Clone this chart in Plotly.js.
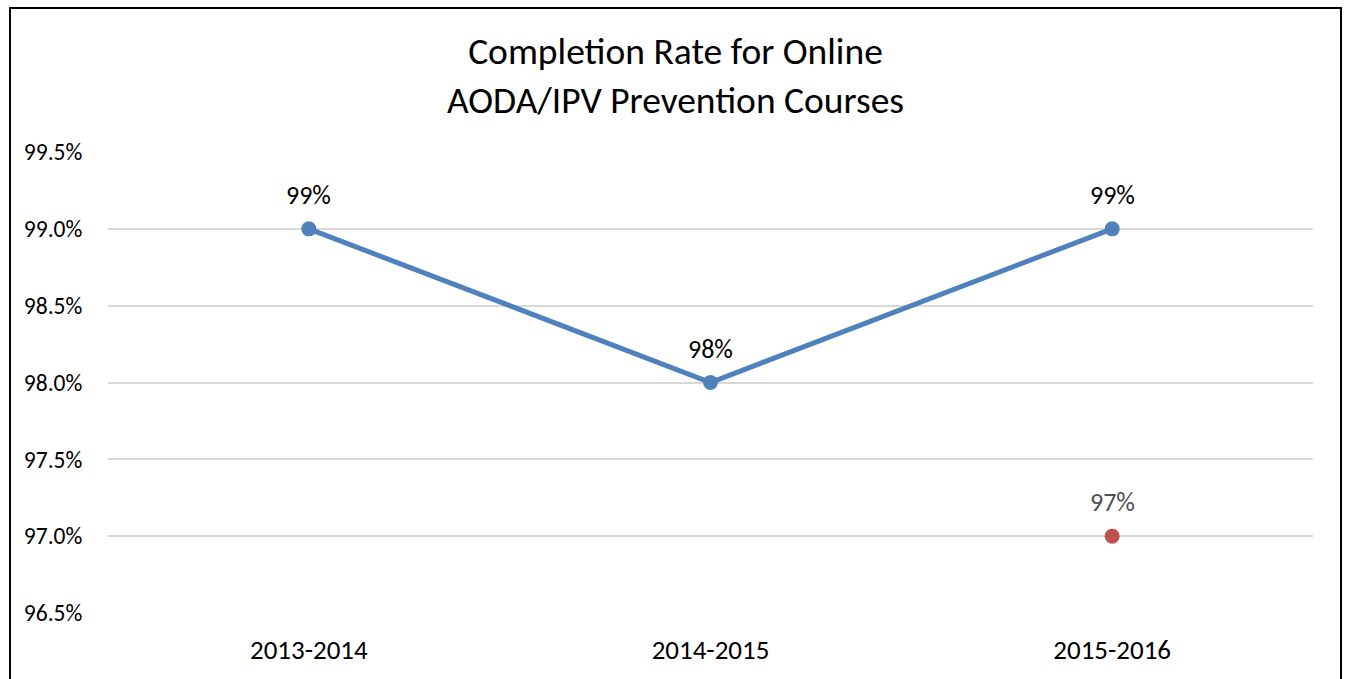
<!DOCTYPE html>
<html>
<head>
<meta charset="utf-8">
<script src="https://cdn.plot.ly/plotly-3.0.1.min.js"></script>
<style>
html,body{margin:0;padding:0;background:#fff;overflow:hidden;}
#chart{width:1348px;height:679px;}
#frame{position:absolute;left:9px;top:7px;width:1329px;height:720px;border:2px solid #000;pointer-events:none;}
</style>
</head>
<body>
<div id="chart"></div>
<div id="frame"></div>
<script>
const years = ["2013-2014", "2014-2015", "2015-2016"];
const completion = [99.0, 98.0, 99.0];
const completionLabels = ["99%", "98%", "99%"];
const targetYear = ["2015-2016"];
const targetValue = [97.0];
const targetLabel = ["97%"];
const yTickVals = [96.5, 97.0, 97.5, 98.0, 98.5, 99.0, 99.5];
const yTickText = ["96.5%", "97.0%", "97.5%", "98.0%", "98.5%", "99.0%", "99.5%"];
const chartTitle = "Completion Rate for Online<br>AODA/IPV Prevention Courses";

const font = "Carlito, Calibri, Lato, 'Open Sans', sans-serif";

const traces = [
  {
    x: years, y: completion, type: "scatter", mode: "lines+markers",
    line: {color: "#4F81BD", width: 5},
    marker: {color: "#4F81BD", size: 15},
    cliponaxis: false, hoverinfo: "x+y"
  },
  {
    x: targetYear, y: targetValue, type: "scatter", mode: "markers",
    marker: {color: "#C0504D", size: 15},
    cliponaxis: false, hoverinfo: "x+y"
  }
];

const annotations = [];
years.forEach((yr, i) => annotations.push({
  x: yr, y: completion[i], xref: "x", yref: "y", text: completionLabels[i],
  showarrow: false, yshift: 34, font: {family: font, size: 26, color: "#000"}
}));
targetYear.forEach((yr, i) => annotations.push({
  x: yr, y: targetValue[i], xref: "x", yref: "y", text: targetLabel[i],
  showarrow: false, yshift: 34, font: {family: font, size: 26, color: "#505050"}
}));
annotations.push({
  x: 0.4707, y: 1.167, xref: "paper", yref: "paper", xanchor: "center", yanchor: "middle",
  text: chartTitle, showarrow: false, font: {family: font, size: 37.5, color: "#000"}
});

const layout = {
  width: 1348, height: 679,
  margin: {l: 108, r: 35, t: 152, b: 66},
  paper_bgcolor: "#fff", plot_bgcolor: "#fff",
  showlegend: false,
  font: {family: font, color: "#000", size: 23},
  annotations: annotations,
  xaxis: {
    type: "category", range: [-0.5, 2.5],
    showgrid: false, zeroline: false, showline: false,
    ticks: "outside", ticklen: 13, tickcolor: "rgba(0,0,0,0)",
    tickfont: {family: font, size: 27, color: "#000"}
  },
  yaxis: {
    range: [96.5, 99.5], tickvals: yTickVals, ticktext: yTickText,
    showgrid: true, gridcolor: "#D9D9D9", gridwidth: 2,
    zeroline: false, showline: false, ticks: "outside", ticklen: 20, tickcolor: "rgba(0,0,0,0)",
    tickfont: {family: font, size: 23.5, color: "#000"}
  }
};

Plotly.newPlot("chart", traces, layout, {displayModeBar: false, staticPlot: true});
</script>
</body>
</html>
